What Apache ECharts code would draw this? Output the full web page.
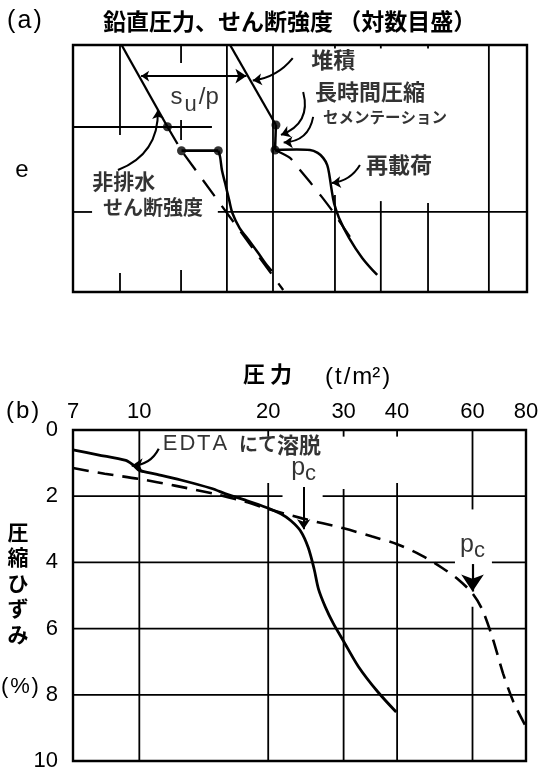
<!DOCTYPE html>
<html>
<head>
<meta charset="utf-8">
<script src="https://cdn.jsdelivr.net/npm/echarts@6/dist/echarts.min.js"></script>
<style>
  html, body { margin: 0; padding: 0; background: #fff; }
  #chart { width: 553px; height: 774px; }
</style>
</head>
<body>
<div id="chart"></div>
<script>
// ---------- (b) consolidation test: pressure (t/m², log) vs compressive strain (%) ----------
const pressureTicks = [7, 10, 20, 30, 40, 60, 80];
const strainTicks = [0, 2, 4, 6, 8, 10];

// leached with EDTA (solid)
const leachedPressure = [7, 8, 9.3, 9.7, 10, 11, 12.5, 14.7, 16.1, 17.7, 19.8, 21.4, 22.6, 23.8, 24.8, 25.6, 26.2, 27.2, 28.4, 30, 32.5, 36, 39.8];
const leachedStrain   = [0.6, 0.75, 0.92, 1.07, 1.22, 1.34, 1.51, 1.76, 1.95, 2.12, 2.34, 2.53, 2.74, 3.05, 3.55, 4.2, 4.8, 5.35, 5.85, 6.38, 7.15, 7.9, 8.52];

// undisturbed (dashed)
const intactPressure = [7, 8.3, 10, 12.1, 15.2, 17.7, 19.8, 24, 30, 35, 40, 45.8, 51, 55.4, 60, 63.3, 66.9, 70.7, 74.7, 79.5];
const intactStrain   = [1.15, 1.32, 1.48, 1.68, 1.95, 2.17, 2.37, 2.67, 2.97, 3.22, 3.45, 3.8, 4.17, 4.5, 4.94, 5.44, 6.3, 7.35, 8.2, 8.9];

// preconsolidation pressures
const pcPressure = [24.2, 60];
const pcArrowStrain = [[1.72, 3.0], [4.05, 4.88]];

// ---------- (a) schematic e – log p paths (arbitrary units 0–100) ----------
const undrainedLine = [[10.7, 100], [20.8, 66.9]];
const undrainedDashed = [[20.8, 66.9], [23.9, 57.2], [46.3, 0.8]];
const undrainedStep = [[23.9, 57.2], [32.0, 57.2]];
const undrainedReload = [[32.0, 57.2], [32.4, 54.7], [32.8, 49.4], [33.5, 44.1], [34.4, 37.2], [35.1, 32.0], [36.7, 25.9], [38.7, 21.1], [40.8, 15.8], [42.5, 11.3], [43.8, 8.5]];
const sedimentLine = [[34.6, 100], [44.7, 67.6]];
const agingDrop = [[44.7, 67.6], [44.5, 57.5]];
const cementedReload = [[44.5, 57.5], [49.3, 57.7], [52.2, 57.5], [53.9, 56.3], [55.1, 54.3], [56.0, 51.4], [56.5, 47.0], [56.9, 42.1], [57.5, 36.0], [58.6, 30.0], [60.8, 21.9], [63.7, 13.8], [67.0, 6.9]];
const normalDashed = [[44.5, 57.5], [47.8, 54.3], [50.0, 49.4], [52.2, 44.5], [54.8, 38.5], [57.3, 32.4], [61.0, 22.3]];
const statePoints = [[20.8, 66.9], [23.9, 57.2], [32.0, 57.2], [44.7, 67.6], [44.5, 57.5]];
const suSpan = [[15.0, 87.4], [38.2, 87.4]];

// grid line layout of each panel (position + visible spans)
const aGridV = [
  { x: 10.35, spans: [[63.6, 100], [0, 7.7]] },
  { x: 23.8, spans: [[92.7, 100], [61.5, 69.6], [0, 8.9]] },
  { x: 33.9, spans: [[0, 100]] },
  { x: 44.05, spans: [[0, 100]] },
  { x: 57.7, spans: [[0, 39.3], [98.6, 100]] },
  { x: 67.8, spans: [[0, 36.8], [98.6, 100]] },
  { x: 78.2, spans: [[0, 36.0], [98.6, 100]] },
  { x: 91.6, spans: [[0, 100]] }
];
const aGridH = [
  { y: 66.8, spans: [[0, 30.6]] },
  { y: 32.4, spans: [[0, 4.2], [31.9, 100]] }
];
const bGridV = [
  { x: 10, spans: [[0, 10]] },
  { x: 20, spans: [[0, 0.2], [1.6, 10]] },
  { x: 30, spans: [[0, 0.2], [1.78, 10]] },
  { x: 40, spans: [[0, 0.2], [1.6, 10]] },
  { x: 60, spans: [[0, 2.4], [5.34, 10]] }
];
const bGridH = [
  { y: 2, spans: [[7, 21.6], [26.8, 80]] },
  { y: 4, spans: [[7, 54.6], [66.6, 80]] },
  { y: 6, spans: [[7, 80]] },
  { y: 8, spans: [[7, 80]] }
];

const CJK = '"Noto Sans CJK JP", sans-serif';
const SANS = '"Liberation Sans", Arial, sans-serif';
const INK = '#000';
const HS = '\u200A';

function zip(xs, ys) { return xs.map((x, i) => [x, ys[i]]); }

function path(idx, data, opt) {
  opt = opt || {};
  return {
    type: 'line', xAxisIndex: idx, yAxisIndex: idx, data: data,
    symbol: 'none', silent: true, animation: false,
    smooth: opt.smooth || false, z: opt.z || 3,
    lineStyle: { color: INK, width: opt.width || 2.4, type: opt.type || 'solid', cap: 'butt' }
  };
}

const series = [];

// grid lines
aGridV.forEach(g => g.spans.forEach(s => series.push(path(0, [[g.x, s[0]], [g.x, s[1]]], { width: 1.8, z: 1 }))));
aGridH.forEach(g => g.spans.forEach(s => series.push(path(0, [[s[0], g.y], [s[1], g.y]], { width: 1.8, z: 1 }))));
bGridV.forEach(g => g.spans.forEach(s => series.push(path(1, [[g.x, s[0]], [g.x, s[1]]], { width: 1.8, z: 1 }))));
bGridH.forEach(g => g.spans.forEach(s => series.push(path(1, [[s[0], g.y], [s[1], g.y]], { width: 1.8, z: 1 }))));

// (a) paths
series.push(path(0, undrainedLine, { width: 2.3 }));
series.push(path(0, undrainedDashed, { width: 2.3, type: [20, 12] }));
series.push(path(0, undrainedStep, { width: 2.7 }));
series.push(path(0, undrainedReload, { width: 2.5, smooth: 0.3 }));
series.push(path(0, sedimentLine, { width: 2.3 }));
series.push(path(0, agingDrop, { width: 2.5 }));
series.push(path(0, cementedReload, { width: 2.5, smooth: 0.35 }));
series.push(path(0, normalDashed, { width: 2.3, type: [20, 12], smooth: 0.2 }));
series.push({
  type: 'scatter', xAxisIndex: 0, yAxisIndex: 0, data: statePoints,
  symbol: 'circle', symbolSize: 9, itemStyle: { color: INK }, silent: true, animation: false, z: 5
});

// (a) annotation arrows
series.push({
  type: 'lines', coordinateSystem: 'cartesian2d', xAxisIndex: 0, yAxisIndex: 0,
  silent: true, animation: false, z: 4,
  symbol: ['none', 'arrow'], symbolSize: 9,
  lineStyle: { color: INK, width: 2, opacity: 1 },
  data: [
    { coords: [[48.4, 94.7], [39.6, 85.6]], lineStyle: { curveness: 0.2 } },
    { coords: [[50.7, 81.0], [45.8, 63.6]], lineStyle: { curveness: 0.45 } },
    { coords: [[52.9, 70.9], [46.4, 60.5]], lineStyle: { curveness: 0.4 } },
    { coords: [[63.2, 51.4], [57.0, 44.1]], lineStyle: { curveness: 0.25 } },
    { coords: [[9.9, 49.4], [18.7, 73.7]], lineStyle: { curveness: -0.35 } }
  ]
});
series.push({
  type: 'lines', coordinateSystem: 'cartesian2d', xAxisIndex: 0, yAxisIndex: 0,
  silent: true, animation: false, z: 4,
  symbol: ['arrow', 'arrow'], symbolSize: [8, 11],
  lineStyle: { color: INK, width: 2.2, opacity: 1 },
  data: [{ coords: suSpan }]
});

// (a) text labels placed in plot units
function note(pos, text, size) {
  return {
    value: pos,
    label: { show: true, position: 'inside', formatter: text, color: INK, fontFamily: CJK, fontSize: size, fontWeight: 'bold' }
  };
}
series.push({
  type: 'scatter', xAxisIndex: 0, yAxisIndex: 0, symbolSize: 0, silent: true, animation: false, z: 6,
  data: [
    note([57.3, 93.9], '堆積', 22),
    note([65.4, 81.0], '長時間圧縮', 22),
    note([68.7, 70.9], 'セメンテーション', 15.5),
    note([71.8, 51.4], '再載荷', 22),
    note([11.2, 44.9], '非排水', 21),
    note([17.6, 34.4], 'せん断強度', 20),
    {
      value: [26.9, 77.5],
      label: {
        show: true, position: 'inside', formatter: '{a|s}{b|u}{a|/p}',
        rich: {
          a: { fontFamily: SANS, fontSize: 24, color: INK, verticalAlign: 'bottom', padding: [0, 1, 6, 0] },
          b: { fontFamily: SANS, fontSize: 22, color: INK, verticalAlign: 'bottom', padding: [0, 2, 0, 1] }
        }
      }
    }
  ]
});

// (b) curves
series.push(path(1, zip(leachedPressure, leachedStrain), { width: 2.8, smooth: 0.3, z: 3 }));
series.push(path(1, zip(intactPressure, intactStrain), { width: 2.6, smooth: 0.3, type: [16, 9], z: 3 }));

// (b) pc arrows
series.push({
  type: 'lines', coordinateSystem: 'cartesian2d', xAxisIndex: 1, yAxisIndex: 1,
  silent: true, animation: false, z: 4,
  symbol: ['none', 'arrow'], symbolSize: [7, 10],
  lineStyle: { color: INK, width: 2, opacity: 1 },
  data: [{ coords: [[pcPressure[0], pcArrowStrain[0][0]], [pcPressure[0], pcArrowStrain[0][1]]] }]
});
series.push({
  type: 'lines', coordinateSystem: 'cartesian2d', xAxisIndex: 1, yAxisIndex: 1,
  silent: true, animation: false, z: 4,
  symbol: ['none', 'arrow'], symbolSize: [12, 17],
  lineStyle: { color: INK, width: 2.2, opacity: 1 },
  data: [{ coords: [[pcPressure[1], pcArrowStrain[1][0]], [pcPressure[1], pcArrowStrain[1][1]]] }]
});
// EDTA arrow
series.push({
  type: 'lines', coordinateSystem: 'cartesian2d', xAxisIndex: 1, yAxisIndex: 1,
  silent: true, animation: false, z: 4,
  symbol: ['none', 'arrow'], symbolSize: [8, 11],
  lineStyle: { color: INK, width: 2.2, opacity: 1, curveness: 0.3 },
  data: [{ coords: [[11.1, 0.57], [9.6, 1.08]] }]
});

const pcRich = {
  p: { fontFamily: SANS, fontSize: 25, color: INK, verticalAlign: 'bottom', padding: [0, 0, 4, 0] },
  c: { fontFamily: SANS, fontSize: 22, color: INK, verticalAlign: 'bottom' }
};
series.push({
  type: 'scatter', xAxisIndex: 1, yAxisIndex: 1, symbolSize: 0, silent: true, animation: false, z: 6,
  data: [
    { value: [pcPressure[0], pcArrowStrain[0][0]], label: { show: true, position: 'top', distance: 2, formatter: '{p|p}{c|c}', rich: pcRich } },
    { value: [pcPressure[1], pcArrowStrain[1][0]], label: { show: true, position: 'top', distance: 2, formatter: '{p|p}{c|c}', rich: pcRich } },
    {
      value: [11.35, 0.43],
      label: {
        show: true, position: 'right', distance: 0, formatter: '{e|E' + HS + 'D' + HS + 'T' + HS + 'A}{s| }{j|にて}{k|溶脱}',
        rich: {
          e: { fontFamily: SANS, fontSize: 22, color: INK },
          s: { fontFamily: SANS, fontSize: 22, color: INK, width: 12 },
          j: { fontFamily: CJK, fontSize: 19, color: INK, fontWeight: 'bold' },
          k: { fontFamily: CJK, fontSize: 22, color: INK, fontWeight: 'bold' }
        }
      }
    }
  ]
});

const chart = echarts.init(document.getElementById('chart'), null, { renderer: 'canvas' });
chart.setOption({
  animation: false,
  backgroundColor: '#fff',
  grid: [
    { left: 73, top: 45, width: 454, height: 247, show: true, borderColor: INK, borderWidth: 2.4, backgroundColor: 'transparent' },
    { left: 73, top: 430, width: 453, height: 331, show: true, borderColor: INK, borderWidth: 2.4, backgroundColor: 'transparent' }
  ],
  xAxis: [
    { gridIndex: 0, type: 'value', min: 0, max: 100, show: false },
    {
      gridIndex: 1, type: 'log', logBase: 10, min: 7, max: 80, position: 'top',
      axisLine: { show: false }, axisTick: { show: false }, splitLine: { show: false }, minorSplitLine: { show: false },
      axisLabel: { customValues: pressureTicks, color: INK, fontFamily: SANS, fontSize: 22, margin: 7 }
    }
  ],
  yAxis: [
    { gridIndex: 0, type: 'value', min: 0, max: 100, show: false },
    {
      gridIndex: 1, type: 'value', min: 0, max: 10, interval: 2, inverse: true,
      axisLine: { show: false }, axisTick: { show: false }, splitLine: { show: false },
      axisLabel: { customValues: strainTicks, color: INK, fontFamily: SANS, fontSize: 22, margin: 15 }
    }
  ],
  graphic: [
    { type: 'text', x: 7, y: 21, style: { text: '(' + HS + 'a' + HS + ')', font: '25px ' + SANS, fill: INK, verticalAlign: 'middle' } },
    { type: 'text', x: 103, y: 21, style: { text: '鉛直圧力、せん断強度 （対数目盛）', font: 'bold 23px ' + CJK, fill: INK, verticalAlign: 'middle' } },
    { type: 'text', x: 22, y: 170, style: { text: 'e', font: '24px ' + SANS, fill: INK, align: 'center', verticalAlign: 'middle' } },
    { type: 'text', x: 243, y: 374, style: { text: '圧 力', font: 'bold 22px ' + CJK, fill: INK, verticalAlign: 'middle' } },
    { type: 'text', x: 325, y: 377, style: { text: ['(', 't', '/', 'm²', ')'].join(HS), font: '24px ' + SANS, fill: INK, verticalAlign: 'middle' } },
    { type: 'text', x: 6, y: 411, style: { text: '(' + HS + 'b' + HS + ')', font: '24px ' + SANS, fill: INK, verticalAlign: 'middle' } },
    { type: 'text', x: 18, y: 519, style: { text: '圧\n縮\nひ\nず\nみ', font: 'bold 21px ' + CJK, lineHeight: 25.5, fill: INK, align: 'center', verticalAlign: 'top' } },
    { type: 'text', x: 1, y: 687, style: { text: '(' + HS + '%' + HS + ')', font: '22px ' + SANS, fill: INK, verticalAlign: 'middle' } }
  ],
  series: series
});
</script>
</body>
</html>
